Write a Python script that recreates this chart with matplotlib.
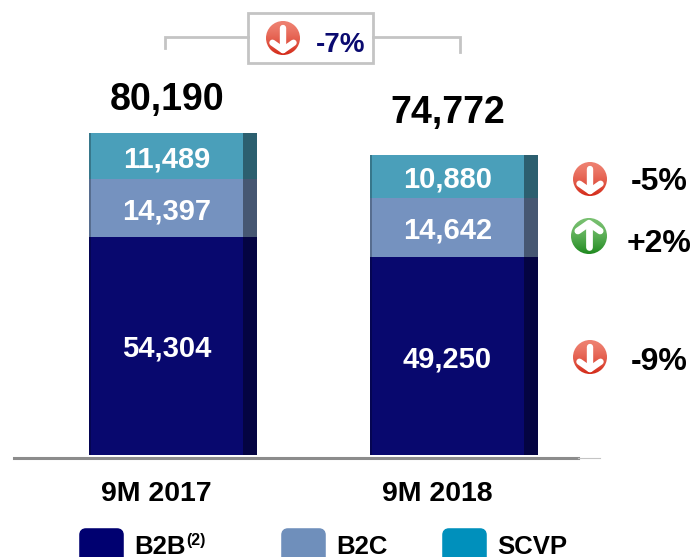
import numpy as np
import matplotlib
matplotlib.use('Agg')
import matplotlib.pyplot as plt
from matplotlib.patches import Circle, FancyBboxPatch, Rectangle

plt.rcParams['font.family'] = ['Liberation Sans', 'DejaVu Sans']

periodos = ['9M 2017', '9M 2018']
b2b = [54304, 49250]
b2c = [14397, 14642]
scvp = [11489, 10880]
totales = [80190, 74772]
variaciones = ['-9%', '+2%', '-5%']
variacion_total = '-7%'
leyenda = ['B2B', 'B2C', 'SCVP']

W, H = 693, 557
AZUL = '#08086e'
MEDIO = '#7592bf'
TEAL = '#4a9fba'

fig = plt.figure(figsize=(W / 100, H / 100), dpi=100)

# Ejes de las barras: x=0,1 son los periodos, y en unidades de datos
ax = fig.add_axes([0, 0, 1, 1])
px_x = 280.5
px_y = 322 / 80190
ax.set_xlim(-173 / px_x, (W - 173) / px_x)
ax.set_ylim(-(H - 455) / px_y, 455 / px_y)
ax.axis('off')

x = np.arange(len(periodos))
ancho = 168 / px_x
abajo = np.zeros(2)
for serie, color in zip([b2b, b2c, scvp], [AZUL, MEDIO, TEAL]):
    ax.bar(x, serie, ancho, bottom=abajo, color=color, linewidth=0)
    # franja oscura a la derecha y borde izquierdo
    ax.bar(x + ancho / 2 - 7 / px_x, serie, 14 / px_x, bottom=abajo, color='black', alpha=0.4, linewidth=0)
    ax.bar(x - ancho / 2 + 1 / px_x, serie, 2 / px_x, bottom=abajo, color='black', alpha=0.25, linewidth=0)
    for i, v in enumerate(serie):
        ax.text(i - 6 / px_x, abajo[i] + v / 2, f'{v:,}', color='white', fontsize=21,
                fontweight='bold', ha='center', va='center_baseline')
    abajo = abajo + np.array(serie)

# el total de 2018 va mas separado de su barra
for i, (t, sep) in enumerate(zip(totales, [37, 46])):
    ax.text(i - 6 / px_x, t + sep / px_y, f'{t:,}', color='black', fontsize=27,
            fontweight='bold', ha='center', va='center_baseline')

# Capa en pixeles para decoracion
ov = fig.add_axes([0, 0, 1, 1])
ov.axis('off')
ov.patch.set_alpha(0)


def icono(cx, cy, r, claro, oscuro, arriba=False):
    yy, xx = np.mgrid[-1:1:80j, -1:1:80j]
    t = np.clip((yy + 1) / 2, 0, 1) ** 1.5
    c1 = np.array(matplotlib.colors.to_rgb(claro))
    c2 = np.array(matplotlib.colors.to_rgb(oscuro))
    img = c1 + (c2 - c1) * t[..., None]
    im = ov.imshow(img, extent=[cx - r, cx + r, cy + r, cy - r], zorder=3, aspect='auto')
    im.set_clip_path(Circle((cx, cy), r, transform=ov.transData))
    s = -1 if arriba else 1
    a = r * 0.62
    ov.plot([cx, cx], [cy - s * a * 0.95, cy + s * a * 1.1], color='white', lw=r * 0.27, zorder=5,
            solid_capstyle='round')
    ov.plot([cx - a, cx, cx + a], [cy + s * a * 0.45, cy + s * a * 1.15, cy + s * a * 0.45], color='white',
            lw=r * 0.27, zorder=5, solid_capstyle='round', solid_joinstyle='round')


# Linea base
ov.plot([14, 578], [457.5, 457.5], color='#8c8c8c', lw=2.2, zorder=6)
ov.plot([578, 600], [458, 458], color='#c4c4c4', lw=0.8, zorder=6)

# Corchete superior
ov.plot([165, 165, 248], [48, 37, 37], color='#c4c4c4', lw=2, solid_joinstyle='miter')
ov.plot([373, 460, 460], [37, 37, 52], color='#c4c4c4', lw=2, solid_joinstyle='miter')
ov.add_patch(Rectangle((248, 12.5), 125, 50, fc='white', ec='#c4c4c4', lw=2))
icono(283, 38, 17, '#ee8070', '#d42a18')
ov.text(340.5, 42, variacion_total, color='#0a0a70', fontsize=20, fontweight='bold', ha='center', va='center_baseline')

# Variaciones a la derecha
icono(590, 179, 17, '#ee8070', '#d42a18')
icono(589, 236, 18, '#78c070', '#1f8a1f', arriba=True)
icono(590, 357, 17, '#ee8070', '#d42a18')
ov.text(659, 179, variaciones[2], fontsize=23, fontweight='bold', ha='center', va='center_baseline')
ov.text(659, 241, variaciones[1], fontsize=23, fontweight='bold', ha='center', va='center_baseline')
ov.text(659, 358, variaciones[0], fontsize=23, fontweight='bold', ha='center', va='center_baseline')

# Etiquetas de periodo
for i, p in enumerate(periodos):
    ov.text(156 + 281 * i, 491, p, fontsize=20.5, fontweight='bold', ha='center', va='center_baseline')

# Leyenda
for xs, color, nombre in zip([79, 281, 442], ['#000070', '#6f8fbb', '#0090bc'], leyenda):
    ov.add_patch(FancyBboxPatch((xs + 3, 531), 39, 30, boxstyle='round,pad=0,rounding_size=4',
                                fc=color, ec=color, lw=4))
    ov.text(xs + 55, 544, nombre, fontsize=18.5, fontweight='bold', ha='left', va='center_baseline')
ov.text(186, 539, '(2)', fontsize=11.5, fontweight='bold', ha='left', va='center_baseline')

ov.set_xlim(0, W)
ov.set_ylim(H, 0)

fig.savefig('out.png', dpi=100)
